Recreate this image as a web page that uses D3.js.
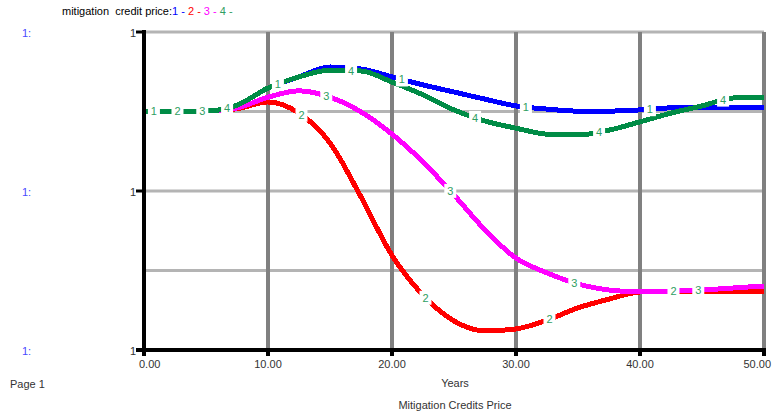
<!DOCTYPE html>
<html>
<head>
<meta charset="utf-8">
<script src="https://cdn.jsdelivr.net/npm/d3@7/dist/d3.min.js"></script>
<style>
  html, body { margin: 0; padding: 0; background: #fff; }
  svg { display: block; font-family: Arial, "Liberation Sans", sans-serif; }
  .pre { white-space: pre; }
</style>
</head>
<body>
<svg id="chart" width="776" height="420"></svg>
<script>
// Simulation time (years) and the four runs of "mitigation credit price"
const years = [0, 2.5, 5, 7.5, 10, 12.5, 15, 17.5, 20, 22.5, 25, 27.5, 30, 32.5, 35, 37.5, 40, 42.5, 45, 47.5, 50];
const run1 = [1.201, 1.201, 1.201, 1.216, 1.259, 1.287, 1.312, 1.307, 1.287, 1.267, 1.249, 1.231, 1.214, 1.206, 1.201, 1.201, 1.204, 1.209, 1.209, 1.209, 1.209];
const run2 = [1.201, 1.201, 1.201, 1.207, 1.224, 1.196, 1.121, 0.985, 0.838, 0.738, 0.673, 0.648, 0.653, 0.675, 0.706, 0.728, 0.746, 0.748, 0.748, 0.748, 0.748];
const run3 = [1.201, 1.201, 1.201, 1.209, 1.236, 1.252, 1.236, 1.199, 1.143, 1.073, 0.990, 0.902, 0.831, 0.794, 0.766, 0.751, 0.746, 0.748, 0.751, 0.756, 0.761];
const run4 = [1.201, 1.201, 1.201, 1.216, 1.259, 1.287, 1.304, 1.302, 1.274, 1.242, 1.204, 1.176, 1.158, 1.143, 1.141, 1.153, 1.174, 1.196, 1.214, 1.234, 1.236];
const runNames = ["1", "2", "3", "4"];
const runColors = ["#0000ff", "#ff0000", "#ff00ff", "#008c46"];
// first time each run's number marker is placed, then every 10 years
const markerStart = [0.8, 2.7, 4.7, 6.7];

const xTickValues = [0, 10, 20, 30, 40, 50];
const yGridValues = [0.6, 0.8, 1.0, 1.2, 1.4];
const yTickValues = [0.6, 1.0, 1.4];

const runs = [run1, run2, run3, run4];

const svg = d3.select("#chart");
const x = d3.scaleLinear().domain([0, 50]).range([144, 764]);
const y = d3.scaleLinear().domain([0.6, 1.4]).range([350, 32]);
const labelGreen = "#2f9e62";

// header
const head = svg.append("text").attr("class", "pre").attr("x", 62).attr("y", 15).attr("font-size", 11).attr("fill", "#000");
head.append("tspan").text("mitigation  credit price:");
runNames.forEach((n, i) => {
  head.append("tspan").attr("fill", i === 3 ? labelGreen : runColors[i]).text(n + " - ");
});

// grid: light horizontal lines, dark vertical lines
svg.append("g").selectAll("line").data(yGridValues).join("line")
  .attr("x1", x(0)).attr("x2", x(50))
  .attr("y1", d => y(d)).attr("y2", d => y(d))
  .attr("stroke", "#b4b4b4").attr("stroke-width", 3);
svg.append("g").selectAll("line").data(xTickValues.filter(d => d > 0)).join("line")
  .attr("x1", d => x(d)).attr("x2", d => x(d))
  .attr("y1", y(1.4)).attr("y2", y(0.6))
  .attr("stroke", "#808080").attr("stroke-width", 4);

// runs
const line = d3.line().x((d, i) => x(years[i])).y(d => y(d)).curve(d3.curveMonotoneX);
const paths = runs.map((r, i) =>
  svg.append("path").datum(r).attr("d", line)
    .attr("fill", "none").attr("stroke", runColors[i]).attr("stroke-width", 5)
    .attr("shape-rendering", "crispEdges").node()
);

// y on a drawn path at a given x position
function pathYAt(p, px) {
  const total = p.getTotalLength();
  let lo = 0, hi = total;
  for (let k = 0; k < 40; k++) {
    const mid = (lo + hi) / 2;
    if (p.getPointAtLength(mid).x < px) lo = mid; else hi = mid;
  }
  return p.getPointAtLength((lo + hi) / 2).y;
}

// number markers on each run
const markers = svg.append("g");
runs.forEach((r, i) => {
  for (let t = markerStart[i]; t < 50; t += 10) {
    const px = x(t), py = pathYAt(paths[i], px);
    markers.append("rect").attr("x", px - 6).attr("y", py - 7).attr("width", 12).attr("height", 14).attr("fill", "#fff");
    markers.append("text").attr("x", px).attr("y", py + 4).attr("text-anchor", "middle")
      .attr("font-size", 11).attr("fill", labelGreen).text(runNames[i]);
  }
});

// axes
const axes = svg.append("g").attr("stroke", "#000");
axes.append("line").attr("x1", x(0)).attr("x2", x(0)).attr("y1", 30).attr("y2", 355).attr("stroke-width", 4);
axes.append("line").attr("x1", 136).attr("x2", x(50) + 2).attr("y1", y(0.6)).attr("y2", y(0.6)).attr("stroke-width", 4);
axes.selectAll(".yt").data(yTickValues).join("line")
  .attr("x1", 136).attr("x2", x(0)).attr("y1", d => y(d)).attr("y2", d => y(d)).attr("stroke-width", 3);
axes.selectAll(".xt").data(xTickValues).join("line")
  .attr("x1", d => x(d)).attr("x2", d => x(d)).attr("y1", y(0.6)).attr("y2", y(0.6) + 6).attr("stroke-width", 4);

// tick labels
const fy = d3.format(".0f"), fx = d3.format(".2f");
svg.append("g").selectAll("text").data(yTickValues).join("text")
  .attr("x", 136).attr("y", d => y(d) + 5).attr("text-anchor", "end")
  .attr("font-size", 11).attr("fill", "#333").text(d => fy(d));
svg.append("g").selectAll("text").data(yTickValues).join("text")
  .attr("x", 22).attr("y", d => y(d) + 5)
  .attr("font-size", 11).attr("fill", "#4a4aff").text("1:");
svg.append("g").selectAll("text").data(xTickValues).join("text")
  .attr("x", (d, i) => i === 0 ? 139 : (i === xTickValues.length - 1 ? 771 : x(d)))
  .attr("text-anchor", (d, i) => i === 0 ? "start" : (i === xTickValues.length - 1 ? "end" : "middle"))
  .attr("y", y(0.6) + 18)
  .attr("font-size", 11).attr("fill", "#333").text(d => fx(d));

svg.append("text").attr("x", 455).attr("y", 387).attr("text-anchor", "middle")
  .attr("font-size", 11).attr("fill", "#333").text("Years");
svg.append("text").attr("x", 455).attr("y", 409).attr("text-anchor", "middle")
  .attr("font-size", 11).attr("fill", "#333").text("Mitigation Credits Price");
svg.append("text").attr("x", 10).attr("y", 388)
  .attr("font-size", 11).attr("fill", "#333").text("Page 1");
</script>
</body>
</html>
